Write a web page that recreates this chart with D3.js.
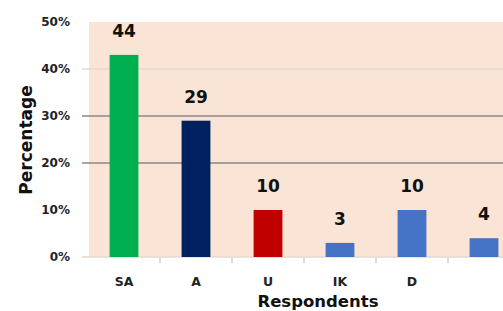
<!DOCTYPE html>
<html>
<head>
<meta charset="utf-8">
<script src="https://d3js.org/d3.v7.min.js"></script>
<style>
  body { margin: 0; background: #fff; }
  text { font-family: "DejaVu Sans", sans-serif; }
</style>
</head>
<body>
<div id="chart"></div>
<script>
// data
var categories = ["SA", "A", "U", "IK", "D", ""];
var values = [43, 29, 10, 3, 10, 4];          // bar heights (%)
var valueLabels = ["44", "29", "10", "3", "10", "4"];
var barColors = ["#00b050", "#002060", "#c00000", "#4472c4", "#4472c4", "#4472c4"];
var yTicks = [0, 10, 20, 30, 40, 50];
var darkGrid = [20, 30];
var lightGrid = [0, 40];

var width = 503, height = 311;

var svg = d3.select("#chart")
    .append("svg")
    .attr("width", width)
    .attr("height", height);

var x = d3.scaleBand()
    .domain(d3.range(categories.length))
    .range([88, 520])
    .paddingInner(0.6)
    .paddingOuter(0.3);

var y = d3.scaleLinear()
    .domain([0, 50])
    .range([257, 22]);

// plot background
svg.append("rect")
    .attr("x", 89)
    .attr("y", y(50))
    .attr("width", width - 89)
    .attr("height", y(0) - y(50))
    .attr("fill", "#fae4d6");

// gridlines
svg.selectAll(".grid-light")
    .data(lightGrid)
    .enter().append("line")
    .attr("x1", 82).attr("x2", width)
    .attr("y1", function(d) { return y(d); })
    .attr("y2", function(d) { return y(d); })
    .attr("stroke", "#e6d8ce")
    .attr("stroke-width", 1.5);

svg.selectAll(".grid-dark")
    .data(darkGrid)
    .enter().append("line")
    .attr("x1", 82).attr("x2", width)
    .attr("y1", function(d) { return y(d); })
    .attr("y2", function(d) { return y(d); })
    .attr("stroke", "#8a8a8a")
    .attr("stroke-width", 1.5);

// y tick labels
svg.selectAll(".ytick")
    .data(yTicks)
    .enter().append("text")
    .attr("x", 70)
    .attr("y", function(d) { return y(d); })
    .attr("dy", "0.35em")
    .attr("text-anchor", "end")
    .attr("font-size", 12)
    .attr("font-weight", "bold")
    .attr("fill", "#222")
    .text(function(d) { return d + "%"; });

// bars
svg.selectAll(".bar")
    .data(values)
    .enter().append("rect")
    .attr("x", function(d, i) { return x(i); })
    .attr("y", function(d) { return y(d); })
    .attr("width", x.bandwidth())
    .attr("height", function(d) { return y(0) - y(d); })
    .attr("fill", function(d, i) { return barColors[i]; });

// value labels
svg.selectAll(".vlabel")
    .data(values)
    .enter().append("text")
    .attr("x", function(d, i) { return x(i) + x.bandwidth() / 2; })
    .attr("y", function(d) { return y(d) - 18; })
    .attr("text-anchor", "middle")
    .attr("font-size", 17)
    .attr("font-weight", "bold")
    .attr("fill", "#111")
    .text(function(d, i) { return valueLabels[i]; });

// x axis ticks between categories
var step = x.step();
svg.selectAll(".xtick")
    .data(d3.range(1, categories.length))
    .enter().append("line")
    .attr("x1", function(d) { return 88 + d * step; })
    .attr("x2", function(d) { return 88 + d * step; })
    .attr("y1", 258).attr("y2", 263)
    .attr("stroke", "#bbb")
    .attr("stroke-width", 1);

// category labels
svg.selectAll(".xlabel")
    .data(categories)
    .enter().append("text")
    .attr("x", function(d, i) { return x(i) + x.bandwidth() / 2; })
    .attr("y", 286)
    .attr("text-anchor", "middle")
    .attr("font-size", 12.5)
    .attr("font-weight", "bold")
    .attr("fill", "#222")
    .text(function(d) { return d; });

// axis titles
svg.append("text")
    .attr("x", 318)
    .attr("y", 307)
    .attr("text-anchor", "middle")
    .attr("font-size", 16.5)
    .attr("font-weight", "bold")
    .attr("fill", "#111")
    .text("Respondents");

svg.append("text")
    .attr("transform", "translate(32,140) rotate(-90)")
    .attr("text-anchor", "middle")
    .attr("font-size", 17)
    .attr("font-weight", "bold")
    .attr("fill", "#111")
    .text("Percentage");
</script>
</body>
</html>
